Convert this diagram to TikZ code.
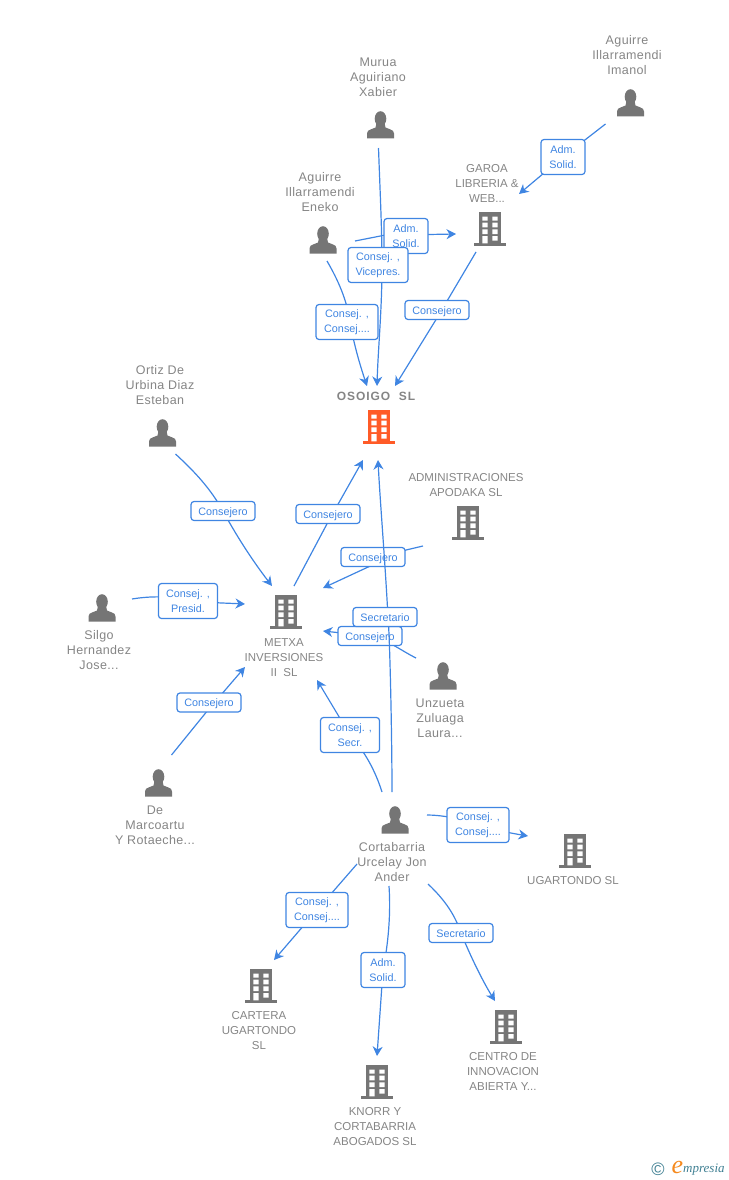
\documentclass[tikz,border=0pt]{standalone}
\usepackage{fontspec}
\setmainfont{Liberation Sans}
\newfontfamily\logofont{Liberation Serif}
\usetikzlibrary{arrows.meta}
\definecolor{iconc}{HTML}{757575}
\definecolor{textc}{HTML}{858585}
\definecolor{linkc}{HTML}{3F85E2}
\definecolor{orangec}{HTML}{FF5B27}
\definecolor{tealc}{HTML}{3F7F92}
\definecolor{emporange}{HTML}{F58A1F}
\newcommand{\lt}[1]{\raisebox{-1.6pt}[7pt][2pt]{#1}}
\newcommand{\bldg}[1]{%
  \begin{scope}[shift={(path picture bounding box.center)}]
    \fill[#1] (-11,-17) rectangle (11,14.3);
    \fill[#1] (-16,14.3) rectangle (16,16.8);
    \fill[white] (-7.6,-12.3) rectangle (-2.4,-8.3) (2.4,-12.3) rectangle (7.6,-8.3)
      (-7.6,-6.3) rectangle (-2.4,-1.7) (2.4,-6.3) rectangle (7.6,-1.7)
      (-7.6,0.3) rectangle (-2.4,5) (2.4,0.3) rectangle (7.6,5)
      (-7.6,7) rectangle (-2.4,14.3) (2.4,7) rectangle (7.6,11.7);
  \end{scope}}
\tikzset{
  x=1pt,y=-1pt,
  personicon/.style={minimum size=36pt,inner sep=0pt,path picture={
    \begin{scope}[shift={(path picture bounding box.center)}]
      \fill[iconc] (0,-6.2) ellipse [x radius=5.8,y radius=7.6];
      \fill[iconc] (-13.5,13.5) -- (-13.5,8.5) .. controls (-13.5,6) and (-12,5.2) .. (-10,4.5)
        -- (-5,2.5) -- (-4,-2) -- (4,-2) -- (5,2.5) -- (10,4.5) .. controls (12,5.2) and (13.5,6) .. (13.5,8.5) -- (13.5,13.5) -- cycle;
    \end{scope}}},
  bldgicon/.style={minimum size=38pt,inner sep=0pt,path picture={\bldg{iconc}}},
  bldgmain/.style={minimum size=38pt,inner sep=0pt,path picture={\bldg{orangec}}},
  nametext/.style={align=center,inner sep=0pt,text=textc,font=\fontsize{12.5}{15}\selectfont\addfontfeature{LetterSpace=3}},
  firmtext/.style={align=center,inner sep=0pt,yshift=-0.7pt,text=textc,font=\fontsize{11.5}{15}\selectfont},
  conn/.style={draw=linkc,line width=1.2pt,-{Stealth[length=9.5pt,width=10pt,inset=3pt]}},
  lbl/.style={draw=linkc,fill=white,line width=1.2pt,rounded corners=3pt,inner sep=0pt,align=center,
    text=linkc,font=\fontsize{10.8}{15}\selectfont,minimum height=19pt,minimum width=64pt},
  lbltwo/.style={lbl,minimum height=35pt,minimum width=#1},
  lbltwo/.default=62pt
}
\begin{document}
\begin{tikzpicture}
\useasboundingbox (0,0) rectangle (728,1180);
% people
\node[personicon] (imanol) at (630.5,103) {};
\node[personicon] (xabier) at (380.5,125) {};
\node[personicon] (eneko) at (323,240) {};
\node[personicon] (esteban) at (162.5,433) {};
\node[personicon] (silgo) at (102,608) {};
\node[personicon] (laura) at (443,676) {};
\node[personicon] (marco) at (158.5,783) {};
\node[personicon] (jon) at (395,820) {};
% companies
\node[bldgmain] (osoigo) at (379,427) {};
\node[bldgicon] (garoa) at (490,229) {};
\node[bldgicon] (apodaka) at (468,523) {};
\node[bldgicon] (metxa) at (286,612) {};
\node[bldgicon] (ugartondo) at (575,851) {};
\node[bldgicon] (cartera) at (261,986) {};
\node[bldgicon] (centro) at (506,1027) {};
\node[bldgicon] (knorr) at (377,1082) {};
% texts
\node[nametext] (timanol) at (627,55) {Aguirre\\Illarramendi\\Imanol};
\node[nametext] (txabier) at (378,77) {Murua\\Aguiriano\\Xabier};
\node[nametext] (teneko) at (320,192) {Aguirre\\Illarramendi\\Eneko};
\node[nametext] (testeban) at (160,385) {Ortiz De\\Urbina Diaz\\Esteban};
\node[nametext] (tsilgo) at (99,650) {Silgo\\Hernandez\\Jose...};
\node[nametext] (tlaura) at (440,718) {Unzueta\\Zuluaga\\Laura...};
\node[nametext] (tmarco) at (155,825) {De\\Marcoartu\\Y Rotaeche...};
\node[nametext] (tjon) at (392,862) {Cortabarria\\Urcelay Jon\\Ander};
\node[firmtext] (tgaroa) at (487,183) {GAROA\\LIBRERIA \&\\WEB...};
\node[firmtext] (tapodaka) at (466,484.5) {ADMINISTRACIONES\\APODAKA SL};
\node[firmtext] (tmetxa) at (284,657) {METXA\\INVERSIONES\\II\ \ SL};
\node[firmtext,font=\fontsize{12}{15}\selectfont\bfseries\addfontfeature{LetterSpace=8}] (tosoigo) at (376,396) {OSOIGO\ \ SL};
\node[firmtext] (tugartondo) at (573,880) {UGARTONDO SL};
\node[firmtext] (tcartera) at (259,1030) {CARTERA\\UGARTONDO\\SL};
\node[firmtext] (tcentro) at (503,1071) {CENTRO DE\\INNOVACION\\ABIERTA Y...};
\node[firmtext] (tknorr) at (375,1126) {KNORR Y\\CORTABARRIA\\ABOGADOS SL};
% connectors with their labels
\draw[conn] ([shift={(-25,21)}]imanol.center) -- (563,157) node[lbltwo=44pt] (l1) {Adm.\\Solid.} -- ([shift={(29,-35)}]garoa.center);
\draw[conn] ([shift={(32,1)}]eneko.center) -- (384,235.3) node[lbltwo=44pt] at (406,236) (l2) {Adm.\\Solid.} -- ([shift={(-34,5)}]garoa.center);
\draw[conn] ([shift={(-2,23)}]xabier.center) .. controls (380,190) and (382,230) .. (382,265) node[lbltwo=60pt] at (378,265) (l3) {Consej. ,\\Vicepres.} .. controls (382,310) and (378,350) .. ([shift={(-2,-41)}]osoigo.center);
\draw[conn] ([shift={(4,21)}]eneko.center) .. controls (338,280) and (347,300) .. (350,322) node[lbltwo] at (347,322) (l4) {Consej. ,\\Consej....} .. controls (354,345) and (360,365) .. ([shift={(-12,-41)}]osoigo.center);
\draw[conn] ([shift={(-14,23)}]garoa.center) -- (437,318) node[lbl] at (437,310) (l5) {\lt{Consejero}} -- ([shift={(16,-41)}]osoigo.center);
\draw[conn] ([shift={(13,21)}]esteban.center) .. controls (195,472) and (210,488) .. (223,511) node[lbl] (l6) {\lt{Consejero}} .. controls (236,535) and (252,560) .. ([shift={(-14,-26)}]metxa.center);
\draw[conn] ([shift={(8,-26)}]metxa.center) -- (328,522) node[lbl] at (328,514) (l7) {\lt{Consejero}} -- ([shift={(-16,33)}]osoigo.center);
\draw[conn] ([shift={(-45,23)}]apodaka.center) -- (406,550) -- (366,568) node[lbl] at (373,557) (l8) {\lt{Consejero}} -- ([shift={(37,-24)}]metxa.center);
\draw[conn] ([shift={(-27,-18)}]laura.center) .. controls (400,650) and (385,638) .. (370,636) node[lbl] (l9) {\lt{Consejero}} -- ([shift={(37,19)}]metxa.center);
\draw[conn] ([shift={(-3,-28)}]jon.center) .. controls (392,740) and (390,640) .. (388,617) node[lbl] at (385,617) (l10) {\lt{Secretario}} .. controls (385,560) and (380,500) .. ([shift={(-1,33)}]osoigo.center);
\draw[conn] ([shift={(30,-9)}]silgo.center) .. controls (150,596) and (170,596) .. (188,600) node[lbltwo=59pt] at (188,601) (l11) {Consej. ,\\Presid.} .. controls (210,603) and (225,603) .. ([shift={(-41,-8)}]metxa.center);
\draw[conn] ([shift={(13,-28)}]marco.center) -- (208,710) node[lbl] at (209,702.5) (l12) {\lt{Consejero}} -- ([shift={(-41,55)}]metxa.center);
\draw[conn] ([shift={(-13,-28)}]jon.center) .. controls (375,770) and (365,752) .. (350,735) node[lbltwo=59pt] (l13) {Consej. ,\\Secr.} -- ([shift={(31,68)}]metxa.center);
\draw[conn] ([shift={(32,-5)}]jon.center) .. controls (440,815) and (460,818) .. (478,825) node[lbltwo] (l14) {Consej. ,\\Consej....} .. controls (495,830) and (510,833) .. ([shift={(-47,-15)}]ugartondo.center);
\draw[conn] ([shift={(-38,44)}]jon.center) -- (317,910) node[lbltwo] (l15) {Consej. ,\\Consej....} -- ([shift={(13,-26)}]cartera.center);
\draw[conn] ([shift={(-6,66)}]jon.center) .. controls (391,915) and (388,945) .. (383,970) node[lbltwo=44pt] (l16) {Adm.\\Solid.} -- ([shift={(0,-26)}]knorr.center);
\draw[conn] ([shift={(33,64)}]jon.center) .. controls (445,900) and (455,915) .. (461,933) node[lbl] (l17) {\lt{Secretario}} .. controls (470,955) and (482,980) .. ([shift={(-11,-26)}]centro.center);
% logo
\node[inner sep=0pt,text=tealc,font=\fontsize{18}{18}\selectfont] (copy) at (658,1169) {©};
\node[inner sep=0pt,text=emporange,font=\logofont\fontsize{26}{26}\selectfont\itshape] (elogo) at (677.5,1167) {e};
\node[inner sep=0pt,anchor=west,text=tealc,font=\logofont\fontsize{13}{13}\selectfont\itshape] (mlogo) at (683,1170) {mpresia};
\end{tikzpicture}
\end{document}
